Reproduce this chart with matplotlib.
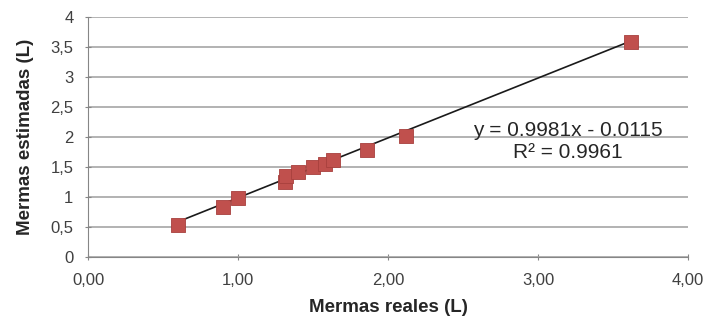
import numpy as np
import matplotlib
matplotlib.use('Agg')
import matplotlib.pyplot as plt
from matplotlib.ticker import FuncFormatter

plt.rcParams['font.family'] = ['Liberation Sans', 'DejaVu Sans']

# values
mermas_reales = [0.60, 0.90, 1.00, 1.31, 1.32, 1.40, 1.50, 1.58, 1.63, 1.86, 2.12, 3.62]
mermas_estimadas = [0.54, 0.83, 0.98, 1.25, 1.35, 1.42, 1.50, 1.55, 1.62, 1.79, 2.02, 3.58]
slope = 0.9981
intercept = -0.0115
r2 = 0.9961

fig = plt.figure(figsize=(7.1, 3.22), dpi=100)
ax = fig.add_axes([0.124, 0.202, 0.845, 0.745])

# trendline over the data range
xl = np.array([min(mermas_reales), max(mermas_reales)])
ax.plot(xl, slope * xl + intercept, color='#1a1a1a', lw=1.2, zorder=2)
ax.scatter(mermas_reales, mermas_estimadas, marker='s', s=95, color='#C0504D',
           edgecolors='#A8403D', linewidths=0.6, zorder=3)

ax.set_xlim(0, 4)
ax.set_ylim(0, 4)
ax.set_xticks([0, 1, 2, 3, 4])
ax.set_yticks(np.arange(0, 4.01, 0.5))
ax.xaxis.set_major_formatter(FuncFormatter(lambda v, p: f'{v:.2f}'.replace('.', ',')))
ax.yaxis.set_major_formatter(FuncFormatter(lambda v, p: f'{v:g}'.replace('.', ',')))

ax.grid(axis='y', color='#a6a6a6', lw=1.2)
ax.set_axisbelow(True)
for s in ['top', 'right']:
    ax.spines[s].set_visible(False)
for s in ['left', 'bottom']:
    ax.spines[s].set_color('#868686')
ax.tick_params(axis='both', colors='#868686', labelcolor='#404040', labelsize=12,
               direction='inout', length=5)
ax.tick_params(axis='x', pad=9)
ax.tick_params(axis='y', pad=8)

ax.set_xlabel('Mermas reales (L)', fontsize=13.5, fontweight='bold', color='#262626', va='center')
ax.set_ylabel('Mermas estimadas (L)', fontsize=13.5, fontweight='bold', color='#262626', va='center')
ax.xaxis.set_label_coords(0.5, -0.212)
ax.yaxis.set_label_coords(-0.105, 0.5)

ax.text(3.197, 1.925, f'y = {slope}x - {abs(intercept)}\nR² = {r2}', ha='center', va='center',
        fontsize=15, color='#262626', linespacing=1.15)

fig.savefig('out.png', dpi=100)
